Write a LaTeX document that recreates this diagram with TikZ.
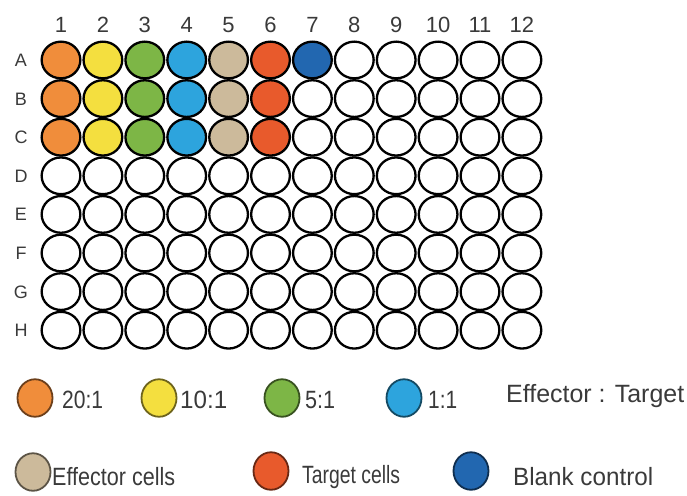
\documentclass[tikz,border=0pt]{standalone}
\usepackage{fontspec}
\setmainfont{Liberation Sans}
\usepackage{graphicx}
\usetikzlibrary{shapes.geometric}

% well colours
\definecolor{ratioA}{HTML}{F08D3B}   % 20:1
\definecolor{ratioB}{HTML}{F4DF3F}   % 10:1
\definecolor{ratioC}{HTML}{7DB646}   % 5:1
\definecolor{ratioD}{HTML}{2DA4DD}   % 1:1
\definecolor{effector}{HTML}{CCBA9B}
\definecolor{target}{HTML}{E85A2C}
\definecolor{blank}{HTML}{2267B0}
\definecolor{ink}{HTML}{3A3A3A}
\colorlet{col1}{ratioA}
\colorlet{col2}{ratioB}
\colorlet{col3}{ratioC}
\colorlet{col4}{ratioD}
\colorlet{col5}{effector}
\colorlet{col6}{target}

% stretch a label horizontally to a given width, keeping its height
\newcommand\fitlabel[2]{\resizebox{#1}{\height}{#2}}

\begin{document}
\begin{tikzpicture}[x=1pt,y=-1pt,
  well/.style={ellipse, draw=black, line width=2.3pt, minimum width=38.7pt,
               minimum height=36.7pt, inner sep=0pt},
  key/.style={ellipse, draw=#1!45!black, fill=#1, line width=1.8pt,
              minimum width=35pt, minimum height=37.5pt, inner sep=0pt},
  collabel/.style={anchor=base, inner sep=0pt, text=ink, font=\fontsize{22}{26}\selectfont},
  rowlabel/.style={anchor=base, inner sep=0pt, text=ink, font=\fontsize{18}{22}\selectfont},
  keytext/.style={anchor=base west, inner sep=0pt, text=ink, font=\fontsize{25}{30}\selectfont}]

\fill[white] (0,0) rectangle (687,495);
\useasboundingbox (0,0) rectangle (687,495);

% column numbers
\foreach \c in {1,...,12}
  \node[collabel] (col-\c) at ({61+(\c-1)*41.9}, 33) {\c};

% rows of wells with their letters
\foreach \r [count=\i] in {A,B,C,D,E,F,G,H}{
  \node[rowlabel] (row-\r) at (21, {60+(\i-1)*38.6+6.5}) {\r};
  \foreach \c in {1,...,12}{
    \def\wc{white}
    \ifnum\i<4 \ifnum\c<7 \edef\wc{col\c}\fi\fi
    \ifnum\i=1 \ifnum\c=7 \def\wc{blank}\fi\fi
    \node[well, fill=\wc] (w-\r\c) at ({61+(\c-1)*41.9}, {60+(\i-1)*38.6}) {};
  }
}

% legend: effector to target ratios
\node[key=ratioA] (k-20) at (35,398) {};
\node[keytext] (t-20) at (62,408) {\fitlabel{41pt}{20:1}};
\node[key=ratioB] (k-10) at (159,398) {};
\node[keytext] (t-10) at (180,408) {\fitlabel{47pt}{10:1}};
\node[key=ratioC] (k-5) at (282,398) {};
\node[keytext] (t-5) at (305,408) {\fitlabel{30pt}{5:1}};
\node[key=ratioD] (k-1) at (404,398) {};
\node[keytext] (t-1) at (428,408) {\fitlabel{29pt}{1:1}};
\node[keytext] (t-ratio) at (506,402) {\fitlabel{178pt}{Effector : Target}};

% legend: controls
\node[key=effector] (k-eff) at (33,472) {};
\node[keytext] (t-eff) at (52,485) {\fitlabel{123pt}{Effector cells}};
\node[key=target] (k-tgt) at (271,471) {};
\node[keytext] (t-tgt) at (302,483) {\fitlabel{98pt}{Target cells}};
\node[key=blank] (k-blk) at (471,471) {};
\node[keytext] (t-blk) at (513,485) {\fitlabel{140pt}{Blank control}};

\end{tikzpicture}
\end{document}
